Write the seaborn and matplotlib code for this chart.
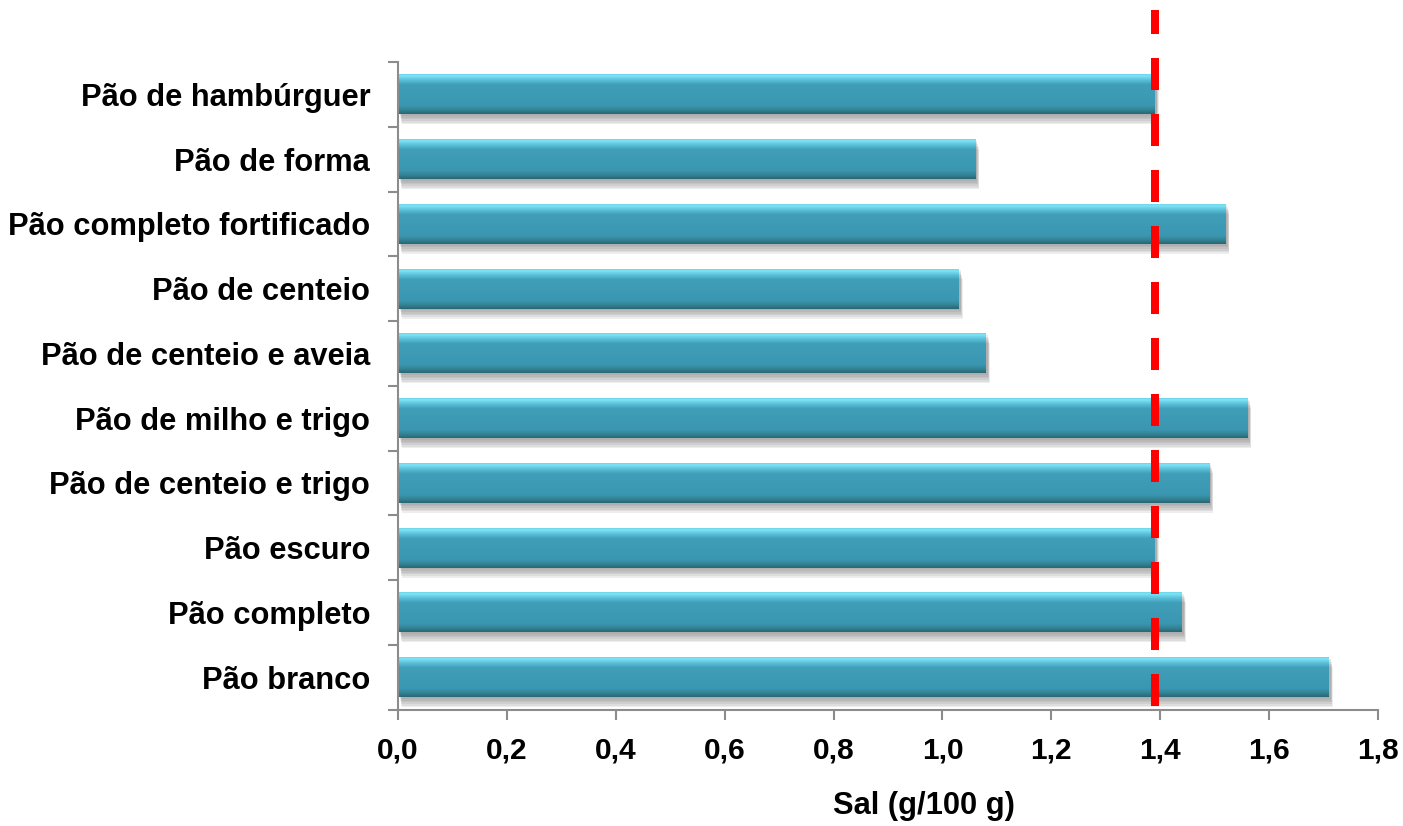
import numpy as np
import pandas as pd
import matplotlib
matplotlib.use("Agg")
import matplotlib.pyplot as plt
import seaborn as sns
from matplotlib import patheffects as pe
from matplotlib.colors import LinearSegmentedColormap

# ---- data ----
categories = [
    "Pão de hambúrguer",
    "Pão de forma",
    "Pão completo fortificado",
    "Pão de centeio",
    "Pão de centeio e aveia",
    "Pão de milho e trigo",
    "Pão de centeio e trigo",
    "Pão escuro",
    "Pão completo",
    "Pão branco",
]
salt = [1.39, 1.06, 1.52, 1.03, 1.08, 1.56, 1.49, 1.39, 1.44, 1.71]
limit_value = 1.39
xtick_values = [0.0, 0.2, 0.4, 0.6, 0.8, 1.0, 1.2, 1.4, 1.6, 1.8]
xtick_labels = ["0,0", "0,2", "0,4", "0,6", "0,8", "1,0", "1,2", "1,4", "1,6", "1,8"]
x_label = "Sal (g/100 g)"

# ---- style ----
sns.set_theme(style="white")
plt.rcParams["font.family"] = ["Liberation Sans", "DejaVu Sans"]
plt.rcParams["font.weight"] = "bold"
plt.rcParams["text.color"] = "black"

W, H = 1403, 826
fig = plt.figure(figsize=(W / 100, H / 100), dpi=100)
ax_left, ax_right, ax_top, ax_bottom = 398, 1378, 10, 709.5
ax = fig.add_axes([ax_left / W, 1 - ax_bottom / H,
                   (ax_right - ax_left) / W, (ax_bottom - ax_top) / H])

df = pd.DataFrame({"cat": categories, "sal": salt})
sns.barplot(data=df, y="cat", x="sal", orient="h", color="#3E9BB5",
            saturation=1, width=0.62, ax=ax, linewidth=0)

# bevel-like vertical gradient + soft shadow on each bar
cmap = LinearSegmentedColormap.from_list("bev", [
    (0.00, "#62CBE3"), (0.06, "#80E4F7"), (0.16, "#5BC2DB"),
    (0.28, "#409EB8"), (0.80, "#3B97B1"), (0.92, "#32808F"), (1.00, "#2A6676")])
grad = np.linspace(0, 1, 100).reshape(-1, 1)
shadow_fx = [pe.SimplePatchShadow(offset=(1 + 0.3 * k, -1.2 * k), shadow_rgbFace="#707070", alpha=0.12)
             for k in range(1, 7)]
for p in list(ax.patches):
    p.set_path_effects(shadow_fx + [pe.Normal()])
    x0, y0 = p.get_x(), p.get_y()
    x1, y1 = x0 + p.get_width(), y0 + p.get_height()
    im = ax.imshow(grad, extent=(x0, x1, y1, y0), aspect="auto", cmap=cmap,
                   origin="upper", zorder=p.get_zorder() + 0.1, interpolation="bilinear")
    im.set_clip_path(p)

ax.set_xlim(0, 1.8)
n = len(categories)
px_per_cat = (ax_bottom - 62) / n
ytop = -0.5 - (62 - ax_top) / px_per_cat
ax.set_ylim(n - 0.5, ytop)

# dashed red reference line
y_start = n - 0.5 - 3.5 / px_per_cat
ax.plot([limit_value, limit_value], [y_start, ytop], color="#FF0000", lw=5.76,
        linestyle=(0, (4, 3)), solid_capstyle="butt", dash_capstyle="butt", zorder=5)

# axes styling
axis_color = "#8C8C8C"
for s in ["top", "right"]:
    ax.spines[s].set_visible(False)
for s in ["left", "bottom"]:
    ax.spines[s].set_color(axis_color)
    ax.spines[s].set_linewidth(1.5)
ax.spines["left"].set_bounds(n - 0.5, -0.5)

ax.set_xticks(xtick_values)
ax.set_xticklabels(xtick_labels, fontsize=21.5, fontweight="bold", color="black")
ax.tick_params(axis="x", direction="out", length=7.2, width=1.5, color=axis_color,
               pad=12.5, bottom=True)
ax.set_yticks(range(n))
ax.set_yticklabels(categories, fontsize=22.2, fontweight="bold", color="black")
ax.tick_params(axis="y", which="major", length=0, pad=20)
ax.set_yticks(np.arange(-0.5, n, 1.0), minor=True)
ax.tick_params(axis="y", which="minor", direction="out", length=7.2, width=1.5,
               color=axis_color, left=True)
ax.set_ylabel("")
ax.set_xlabel(x_label, fontsize=22.2, fontweight="bold", color="black")
ax.xaxis.set_label_coords((924 - ax_left) / (ax_right - ax_left),
                          -(806 - ax_bottom) / (ax_bottom - ax_top))
ax.xaxis.label.set_va("center")
ax.grid(False)

fig.savefig("out.png", dpi=100)
